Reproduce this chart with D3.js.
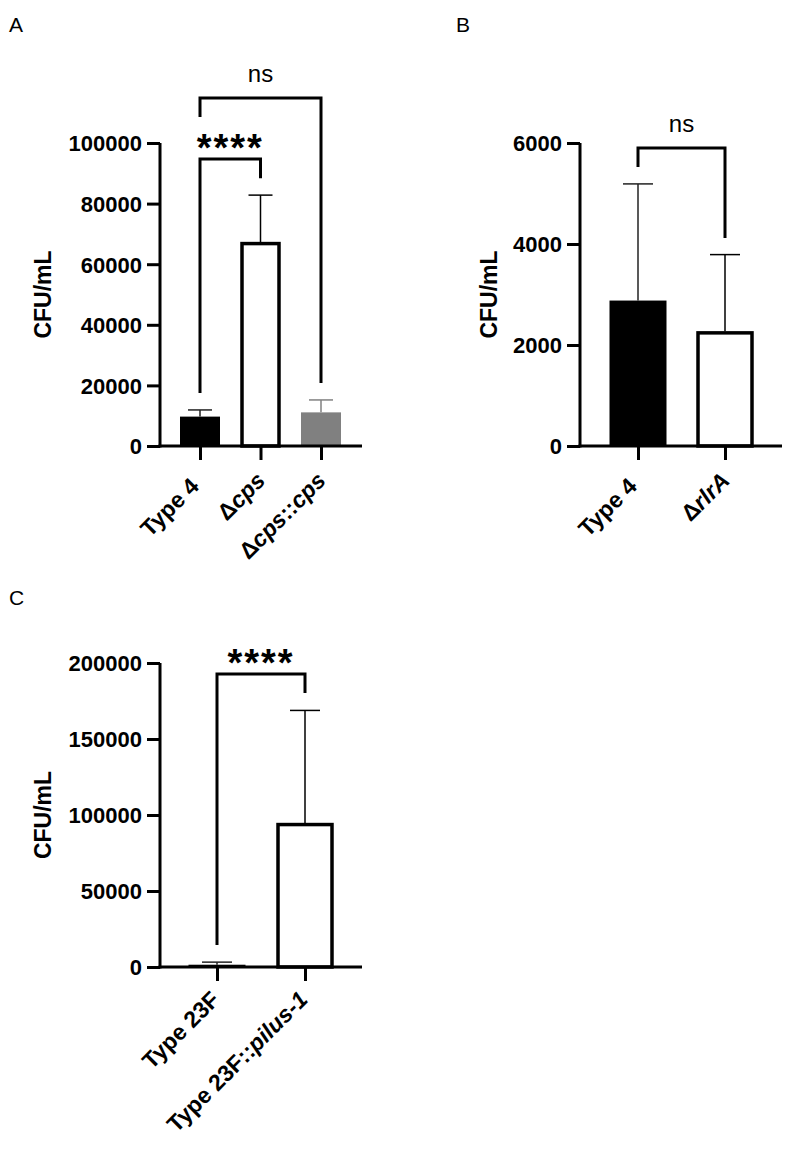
<!DOCTYPE html>
<html>
<head>
<meta charset="utf-8">
<script src="https://cdn.jsdelivr.net/npm/d3@7"></script>
<style>
  body { margin: 0; background: #fff; }
  svg { display: block; font-family: "Liberation Sans", Arial, sans-serif; }
</style>
</head>
<body>
<svg id="chart" width="800" height="1157"></svg>
<script>
// ---------- DATA ----------
// Panel A
const catsA = ["Type 4", "Δcps", "Δcps::cps"];
const meansA = [9700, 67300, 11100];
const errorsA = [11900, 82800, 15200];     // mean + SD (top of error bar)
const ticksA = [0, 20000, 40000, 60000, 80000, 100000];
const sigA = [
  { from: 0, to: 2, top: 114850, leftEnd: 108600, rightEnd: 20800, label: "ns" },
  { from: 0, to: 1, top: 94700, leftEnd: 17500, rightEnd: 88400, label: "****" }
];
// Panel B
const catsB = ["Type 4", "ΔrlrA"];
const meansB = [2880, 2270];
const errorsB = [5190, 3790];
const ticksB = [0, 2000, 4000, 6000];
const sigB = [
  { from: 0, to: 1, top: 5900, leftEnd: 5525, rightEnd: 4120, label: "ns" }
];
// Panel C
const catsC = ["Type 23F", "Type 23F::pilus-1"];
const meansC = [1500, 94700];
const errorsC = [3200, 168800];
const ticksC = [0, 50000, 100000, 150000, 200000];
const sigC = [
  { from: 0, to: 1, top: 192800, leftEnd: 14500, rightEnd: 180300, label: "****" }
];

// label parts: [text, italic]
const labelPartsA = [
  [["Type 4", false]],
  [["Δ", false], ["cps", true]],
  [["Δ", false], ["cps", true], ["::", false], ["cps", true]]
];
const labelPartsB = [
  [["Type 4", false]],
  [["Δ", false], ["rlrA", true]]
];
const labelPartsC = [
  [["Type 23F", false]],
  [["Type 23F::", false], ["pilus-1", true]]
];

// ---------- DRAW ----------
const svg = d3.select("#chart");

function panel(cfg) {
  const g = svg.append("g");
  const y = d3.scaleLinear().domain([0, cfg.ticks[cfg.ticks.length - 1]]).range([cfg.y0, cfg.y1]);
  const x = d3.scalePoint().domain(cfg.cats).range([cfg.c0, cfg.c1]);

  // panel letter
  g.append("text").attr("x", cfg.letterX).attr("y", cfg.letterY)
    .attr("font-size", 21).text(cfg.letter);

  const bars = cfg.cats.map((c, i) => ({ c, m: cfg.means[i], e: cfg.errors[i], fill: cfg.fills[i] }));

  // error bars
  g.selectAll(".err").data(bars).enter().append("g").each(function (d) {
    const s = d3.select(this);
    const col = d.fill === "#fff" ? "#000" : (d.fill === "#000" ? "#222" : d.fill);
    s.append("line").attr("x1", x(d.c)).attr("x2", x(d.c))
      .attr("y1", y(d.m)).attr("y2", y(d.e))
      .attr("stroke", col).attr("stroke-width", 1.5);
    s.append("line").attr("x1", x(d.c) - cfg.capW / 2).attr("x2", x(d.c) + cfg.capW / 2)
      .attr("y1", y(d.e)).attr("y2", y(d.e))
      .attr("stroke", col).attr("stroke-width", 1.5);
  });

  g.selectAll(".bar").data(bars).enter().append("rect")
    .attr("x", d => x(d.c) - cfg.barW / 2 + (d.fill === "#fff" ? 1.5 : 0))
    .attr("width", d => cfg.barW - (d.fill === "#fff" ? 3 : 0))
    .attr("y", d => y(d.m) + (d.fill === "#fff" ? 1.5 : 0))
    .attr("height", d => y(0) - y(d.m) - (d.fill === "#fff" ? 1.5 : 0))
    .attr("fill", d => d.fill)
    .attr("stroke", d => d.fill === "#fff" ? "#000" : "none")
    .attr("stroke-width", 3.5);

  // y axis
  const yAxis = d3.axisLeft(y).tickValues(cfg.ticks).tickSize(13).tickPadding(5).tickFormat(d3.format("d"));
  const ya = g.append("g").attr("transform", `translate(${cfg.ax},0)`).call(yAxis);
  ya.select(".domain").attr("stroke-width", 3).attr("d", `M0,${cfg.y0 + 1.5}V${cfg.y1}`);
  ya.selectAll(".tick line").attr("stroke-width", 3);
  ya.selectAll(".tick text").attr("font-size", 22).attr("font-weight", "bold")
    .attr("font-family", '"Liberation Sans", Arial, sans-serif').attr("dy", "0.36em");

  // x axis
  const xAxis = d3.axisBottom(x).tickSize(14).tickFormat("");
  const xa = g.append("g").attr("transform", `translate(0,${cfg.y0})`).call(xAxis);
  xa.select(".domain").attr("stroke-width", 3).attr("d", `M${cfg.ax - 1.5},0H${cfg.axEnd}`);
  xa.selectAll(".tick line").attr("stroke-width", 3);

  // x labels
  cfg.cats.forEach((c, i) => {
    const sh = (cfg.lblShift && cfg.lblShift[i]) || 0;
    const t = g.append("text")
      .attr("transform", `translate(${x(c) + cfg.lblDx},${cfg.y0 + cfg.lblDy}) rotate(-45)`)
      .attr("x", sh)
      .attr("text-anchor", "end").attr("font-size", cfg.lblSize).attr("font-weight", "bold");
    cfg.labelParts[i].forEach(p => {
      t.append("tspan").attr("font-style", p[1] ? "italic" : "normal").text(p[0]);
    });
  });

  // y label
  g.append("text")
    .attr("transform", `translate(${cfg.ylX},${(cfg.y0 + cfg.y1) / 2}) rotate(-90)`)
    .attr("text-anchor", "middle").attr("font-size", 23).attr("font-weight", "bold")
    .text("CFU/mL");

  // significance brackets
  cfg.sig.forEach(s => {
    const xl = x(cfg.cats[s.from]), xr = x(cfg.cats[s.to]);
    const p = d3.path();
    p.moveTo(xl, y(s.leftEnd)); p.lineTo(xl, y(s.top)); p.lineTo(xr, y(s.top)); p.lineTo(xr, y(s.rightEnd));
    g.append("path").attr("d", p.toString()).attr("fill", "none")
      .attr("stroke", "#000").attr("stroke-width", 3);
    const isStar = s.label.startsWith("*");
    g.append("text").attr("x", (xl + xr) / 2).attr("y", y(s.top) + (isStar ? 2 : -16))
      .attr("text-anchor", "middle")
      .attr("font-size", isStar ? 38 : 24)
      .attr("font-weight", isStar ? "bold" : "normal")
      .attr("letter-spacing", isStar ? 2 : 0)
      .text(s.label);
  });
}

panel({
  letter: "A", letterX: 9, letterY: 32,
  cats: catsA, means: meansA, errors: errorsA, ticks: ticksA, sig: sigA, labelParts: labelPartsA,
  fills: ["#000", "#fff", "#808080"],
  y0: 446, y1: 143, c0: 200, c1: 321, ax: 160, axEnd: 362,
  barW: 40, capW: 24, lblDx: 6, lblDy: 36, lblSize: 23, lblShift: [-8, 0, 0], ylX: 51
});
panel({
  letter: "B", letterX: 456, letterY: 32,
  cats: catsB, means: meansB, errors: errorsB, ticks: ticksB, sig: sigB, labelParts: labelPartsB,
  fills: ["#000", "#fff"],
  y0: 446, y1: 143, c0: 638, c1: 725, ax: 580, axEnd: 782,
  barW: 57, capW: 30, lblDx: 6, lblDy: 36, lblSize: 23, lblShift: [-8, 0], ylX: 497
});
panel({
  letter: "C", letterX: 9, letterY: 605,
  cats: catsC, means: meansC, errors: errorsC, ticks: ticksC, sig: sigC, labelParts: labelPartsC,
  fills: ["#000", "#fff"],
  y0: 967, y1: 663, c0: 217, c1: 305, ax: 160, axEnd: 362,
  barW: 57, capW: 30, lblDx: 4, lblDy: 34, lblSize: 23, lblShift: [0, 0], ylX: 51
});
</script>
</body>
</html>
